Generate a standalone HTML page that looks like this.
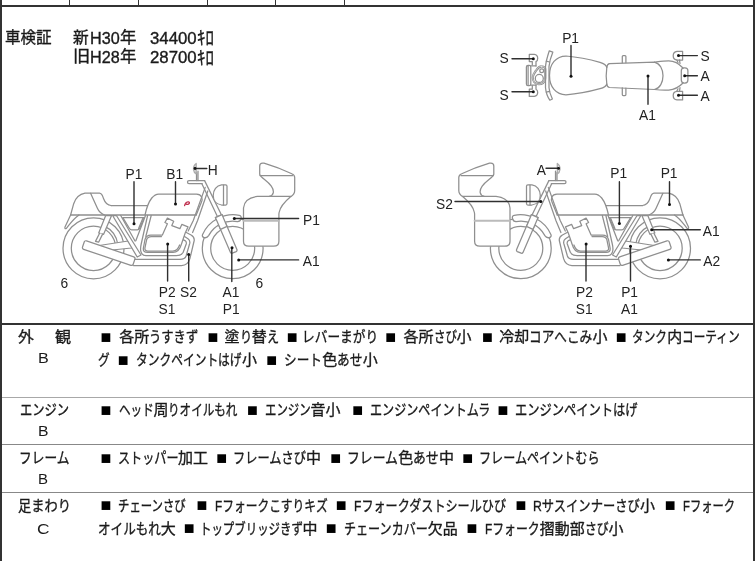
<!DOCTYPE html>
<html lang="ja">
<head>
<meta charset="utf-8">
<title>車両状態</title>
<style>
html,body{margin:0;padding:0;background:#fff;}
body{width:755px;height:561px;position:relative;overflow:hidden;
  font-family:"Liberation Sans","Noto Sans CJK JP",sans-serif;color:#222;}
.ln{position:absolute;background:#333;}
.t{position:absolute;white-space:nowrap;font-size:15px;line-height:21px;height:21px;
  transform-origin:0 50%;color:#1a1a1a;-webkit-text-stroke:0.35px #1a1a1a;}
.q{position:absolute;font-size:18px;line-height:25px;height:25px;color:#000;}
.u{font-size:16px;}
.l{-webkit-text-stroke:0;}
svg{position:absolute;left:0;top:0;}
svg text{font-family:"Liberation Sans",sans-serif;font-size:15px;fill:#222;stroke:none;}
</style>
</head>
<body>
<div id="w" style="position:absolute;left:0;top:0;width:755px;height:561px;will-change:transform;">
<!-- frame -->
<div class="ln" style="left:0;top:0;width:2px;height:561px"></div>
<div class="ln" style="left:753px;top:0;width:2px;height:561px"></div>
<div class="ln" style="left:0;top:5px;width:755px;height:2px"></div>
<div class="ln" style="left:69px;top:0;width:1px;height:6px"></div>
<div class="ln" style="left:138px;top:0;width:1px;height:6px"></div>
<div class="ln" style="left:207px;top:0;width:1px;height:6px"></div>
<div class="ln" style="left:275px;top:0;width:1px;height:6px"></div>
<div class="ln" style="left:344px;top:0;width:1px;height:6px"></div>
<div class="ln" style="left:0;top:323px;width:755px;height:2px"></div>
<div class="ln" style="left:2px;top:397px;width:751px;height:1px;background:#a8a8a8"></div>
<div class="ln" style="left:2px;top:444px;width:751px;height:1px;background:#888"></div>
<div class="ln" style="left:2px;top:492px;width:751px;height:1px;background:#888"></div>
<span class="t" style="left:119.2px;top:326.2px;transform:scaleX(1.000)">各所</span>
<span class="t" style="left:149.2px;top:326.2px;transform:scaleX(0.820)">うすきず</span>
<span class="t" style="left:224.5px;top:326.2px;transform:scaleX(1.000)">塗</span>
<span class="t" style="left:239.5px;top:326.2px;transform:scaleX(0.809)">り</span>
<span class="t" style="left:251.7px;top:326.2px;transform:scaleX(1.000)">替</span>
<span class="t" style="left:266.7px;top:326.2px;transform:scaleX(0.809)">え</span>
<span class="t" style="left:302.3px;top:326.2px;transform:scaleX(0.846)">レバーまがり</span>
<span class="t" style="left:403.5px;top:326.2px;transform:scaleX(1.000)">各所</span>
<span class="t" style="left:433.5px;top:326.2px;transform:scaleX(0.766)">さび</span>
<span class="t" style="left:456.5px;top:326.2px;transform:scaleX(1.000)">小</span>
<span class="t" style="left:499.2px;top:326.2px;transform:scaleX(1.000)">冷却</span>
<span class="t" style="left:529.2px;top:326.2px;transform:scaleX(0.842)">コアへこみ</span>
<span class="t" style="left:592.4px;top:326.2px;transform:scaleX(1.000)">小</span>
<span class="t" style="left:632.2px;top:326.2px;transform:scaleX(0.778)">タンク</span>
<span class="t" style="left:667.3px;top:326.2px;transform:scaleX(1.000)">内</span>
<span class="t" style="left:682.3px;top:326.2px;transform:scaleX(0.778)">コーティン</span>
<span class="t" style="left:97.6px;top:349.3px;transform:scaleX(0.777)">グ</span>
<span class="t" style="left:136.4px;top:349.3px;transform:scaleX(0.782)">タンクペイントはげ</span>
<span class="t" style="left:242.0px;top:349.3px;transform:scaleX(1.000)">小</span>
<span class="t" style="left:284.3px;top:349.3px;transform:scaleX(0.845)">シート</span>
<span class="t" style="left:322.3px;top:349.3px;transform:scaleX(1.000)">色</span>
<span class="t" style="left:337.3px;top:349.3px;transform:scaleX(0.845)">あせ</span>
<span class="t" style="left:362.7px;top:349.3px;transform:scaleX(1.000)">小</span>
<span class="t" style="left:118.7px;top:399.3px;transform:scaleX(0.771)">ヘッド</span>
<span class="t" style="left:153.4px;top:399.3px;transform:scaleX(1.000)">周</span>
<span class="t" style="left:168.4px;top:399.3px;transform:scaleX(0.771)">りオイルもれ</span>
<span class="t" style="left:264.8px;top:399.3px;transform:scaleX(0.761)">エンジン</span>
<span class="t" style="left:310.5px;top:399.3px;transform:scaleX(1.000)">音小</span>
<span class="t" style="left:370.0px;top:399.3px;transform:scaleX(0.806)">エンジンペイントムラ</span>
<span class="t" style="left:515.0px;top:399.3px;transform:scaleX(0.817)">エンジンペイントはげ</span>
<span class="t" style="left:117.5px;top:447.0px;transform:scaleX(0.807)">ストッパー</span>
<span class="t" style="left:178.0px;top:447.0px;transform:scaleX(1.000)">加工</span>
<span class="t" style="left:233.2px;top:447.0px;transform:scaleX(0.814)">フレームさび</span>
<span class="t" style="left:306.1px;top:447.0px;transform:scaleX(1.000)">中</span>
<span class="t" style="left:347.4px;top:447.0px;transform:scaleX(0.855)">フレーム</span>
<span class="t" style="left:398.3px;top:447.0px;transform:scaleX(1.000)">色</span>
<span class="t" style="left:413.3px;top:447.0px;transform:scaleX(0.855)">あせ</span>
<span class="t" style="left:439.0px;top:447.0px;transform:scaleX(1.000)">中</span>
<span class="t" style="left:479.2px;top:447.0px;transform:scaleX(0.806)">フレームペイントむら</span>
<span class="t" style="left:118.3px;top:494.5px;transform:scaleX(0.759)">チェーンさび</span>
<span class="t" style="left:214.7px;top:494.5px;transform:scaleX(0.784)">Fフォークこすりキズ</span>
<span class="t" style="left:353.9px;top:494.5px;transform:scaleX(0.806)">Fフォークダストシールひび</span>
<span class="t" style="left:533.2px;top:494.5px;transform:scaleX(0.817)">Rサスインナーさび</span>
<span class="t" style="left:639.9px;top:494.5px;transform:scaleX(1.000)">小</span>
<span class="t" style="left:683.0px;top:494.5px;transform:scaleX(0.753)">Fフォーク</span>
<span class="t" style="left:97.9px;top:517.5px;transform:scaleX(0.838)">オイルもれ</span>
<span class="t" style="left:160.7px;top:517.5px;transform:scaleX(1.000)">大</span>
<span class="t" style="left:199.5px;top:517.5px;transform:scaleX(0.762)">トップブリッジきず</span>
<span class="t" style="left:302.4px;top:517.5px;transform:scaleX(1.000)">中</span>
<span class="t" style="left:343.9px;top:517.5px;transform:scaleX(0.804)">チェーンカバー</span>
<span class="t" style="left:427.7px;top:517.5px;transform:scaleX(1.000)">欠品</span>
<span class="t" style="left:485.0px;top:517.5px;transform:scaleX(0.790)">Fフォーク</span>
<span class="t" style="left:539.7px;top:517.5px;transform:scaleX(1.000)">摺動部</span>
<span class="t" style="left:584.7px;top:517.5px;transform:scaleX(0.790)">さび</span>
<span class="t" style="left:608.4px;top:517.5px;transform:scaleX(1.000)">小</span>
<span class="t u" style="left:4.5px;top:26.5px;transform:scaleX(0.972)">車検証</span>
<span class="t u" style="left:73.2px;top:26.5px;transform:scaleX(0.980)">新</span>
<span class="t u" style="left:90.4px;top:27.7px;transform:scaleX(1.011)">H30</span>
<span class="t u" style="left:120.1px;top:26.5px;transform:scaleX(1.029)">年</span>
<span class="t u" style="left:149.5px;top:27.7px;transform:scaleX(1.049)">34400</span>
<span class="t u" style="font-size:19px;left:196.5px;top:27.9px;transform:scaleX(0.888)">ｷﾛ</span>
<span class="t u" style="left:73.3px;top:46.1px;transform:scaleX(1.075)">旧</span>
<span class="t u" style="left:90.4px;top:47.3px;transform:scaleX(1.011)">H28</span>
<span class="t u" style="left:120.1px;top:46.1px;transform:scaleX(1.029)">年</span>
<span class="t u" style="left:149.5px;top:47.3px;transform:scaleX(1.049)">28700</span>
<span class="t u" style="font-size:19px;left:196.5px;top:47.5px;transform:scaleX(0.888)">ｷﾛ</span>
<span class="t" style="left:17.6px;top:326.2px;transform:scaleX(1.057)">外</span>
<span class="t" style="left:54.5px;top:326.2px;transform:scaleX(1.071)">観</span>
<span class="t l" style="left:37.8px;top:347.0px;transform:scaleX(1.075)">B</span>
<span class="t" style="left:20.1px;top:399.3px;transform:scaleX(0.819)">エンジン</span>
<span class="t l" style="left:37.8px;top:420.2px;transform:scaleX(1.050)">B</span>
<span class="t" style="left:19.2px;top:447.0px;transform:scaleX(0.848)">フレーム</span>
<span class="t l" style="left:38.0px;top:468.0px;transform:scaleX(1.000)">B</span>
<span class="t" style="left:18.0px;top:494.5px;transform:scaleX(0.882)">足まわり</span>
<span class="t l" style="left:36.6px;top:517.6px;transform:scaleX(1.156)">C</span>
<span class="q" style="left:100.5px;top:325.1px">■</span>
<span class="q" style="left:207.4px;top:325.1px">■</span>
<span class="q" style="left:286.8px;top:325.1px">■</span>
<span class="q" style="left:385.2px;top:325.1px">■</span>
<span class="q" style="left:481.9px;top:325.1px">■</span>
<span class="q" style="left:615.8px;top:325.1px">■</span>
<span class="q" style="left:117.8px;top:348.2px">■</span>
<span class="q" style="left:266.3px;top:348.2px">■</span>
<span class="q" style="left:100.5px;top:398.2px">■</span>
<span class="q" style="left:247.0px;top:398.2px">■</span>
<span class="q" style="left:352.2px;top:398.2px">■</span>
<span class="q" style="left:497.6px;top:398.2px">■</span>
<span class="q" style="left:100.5px;top:445.9px">■</span>
<span class="q" style="left:216.2px;top:445.9px">■</span>
<span class="q" style="left:330.3px;top:445.9px">■</span>
<span class="q" style="left:462.2px;top:445.9px">■</span>
<span class="q" style="left:100.5px;top:493.4px">■</span>
<span class="q" style="left:196.5px;top:493.4px">■</span>
<span class="q" style="left:335.8px;top:493.4px">■</span>
<span class="q" style="left:515.4px;top:493.4px">■</span>
<span class="q" style="left:664.8px;top:493.4px">■</span>
<span class="q" style="left:183.8px;top:516.4px">■</span>
<span class="q" style="left:325.7px;top:516.4px">■</span>
<span class="q" style="left:466.6px;top:516.4px">■</span>
<svg width="755" height="561" viewBox="0 0 755 561" fill="none" stroke="#8f8f8f" stroke-width="1.25" stroke-linecap="round" stroke-linejoin="round">
<!-- ===== top view ===== -->
<g id="topview">
<!-- front signals -->
<path d="M532.3 64.9 V61.6 H529.3 V54.3 H534.3 Q537.7 54.8 537.7 58.4 Q537.7 60.8 536 61.6 V65.9"/>
<path d="M532.3 85.6 V89.2 H529.3 V96.4 H534.3 Q537.7 95.9 537.7 92.3 Q537.7 90 536 89.2 V85.1"/>
<!-- headlight -->
<rect x="526.4" y="65.3" width="4.4" height="20.3" rx="1.6"/>
<path d="M528.1 66.3 V84.6"/>
<path d="M530.8 65.9 H536 M530.8 85.1 H536"/>
<!-- gauges -->
<path d="M541.5 66.3 C544.6 66.3 545.6 68.5 545.3 71 C545.1 74 545.6 77 545 80 C544.2 83 541.5 84.3 538.6 84.2 C535 84 532.6 81 532.8 77.3 C533 74.5 534.6 72.5 536.2 70.3 C537.6 68.2 539 66.3 541.5 66.3 Z" stroke-width="2.2"/>
<path d="M541.5 66.3 C544.6 66.3 545.6 68.5 545.3 71 C545.1 74 545.6 77 545 80 C544.2 83 541.5 84.3 538.6 84.2 C535 84 532.6 81 532.8 77.3 C533 74.5 534.6 72.5 536.2 70.3 C537.6 68.2 539 66.3 541.5 66.3 Z" stroke="#fff" stroke-width=".5"/>
<circle cx="539.3" cy="78.4" r="4" fill="#fff"/>
<circle cx="541.7" cy="70.7" r="1.9" fill="#fff"/>
<!-- handlebar -->
<path d="M549.3 50.8 C547.6 56 546 61 545.5 66.4 V87.8 C546 93 547.6 97 549.8 100.2 L552.4 99 C550.6 95.5 549.3 92 549 87.8 V66.4 C549.4 62 550.8 57 552.8 52.2 Z"/>
<path d="M546.2 61.2 L549.6 62 M546.2 92.2 L549.6 91.4"/>
<!-- tank -->
<path d="M549.5 75.5 C549.5 64 556 56 566 56 C578 57 590 59.5 600 62.3 Q606 64 606.8 67.5 Q605.6 75.5 606.8 84 Q606 87.2 600 88.7 C590 91.5 578 94 566 94.8 C556 94.8 549.5 87 549.5 75.5 Z"/>
<!-- seat -->
<path d="M606.8 67.5 Q607.2 63.9 609.6 63.7 L654.5 62.1 C660 63.5 663 69.3 663 75.8 C663 82.3 660 88.1 654.5 89.5 L609.6 87.5 Q607.2 87.3 606.8 84"/>
<!-- pegs -->
<path d="M622.3 62.7 V56.5 Q622.3 55.6 623.2 55.6 H625 Q625.9 55.6 625.9 56.5 V62.6"/>
<path d="M622.3 87.8 V94.5 Q622.3 95.5 623.2 95.5 H625 Q625.9 95.5 625.9 94.5 V88"/>
<!-- tail cowl -->
<path d="M654.5 62.1 C660 61.4 664 60.8 668.7 60.8 C674 60.8 679 63.5 683 68 M654.5 89.5 C660 90.2 664 90.4 668.7 90.1 C674 89.6 679 87.2 683 83"/>
<rect x="681.3" y="67.8" width="6.6" height="15.2" rx="3"/>
<!-- rear signals -->
<path d="M682.6 51.3 H677 Q673.2 51.8 673.2 55.8 Q673.2 59.8 677 60 H682.6 Z"/>
<path d="M682.6 91.3 H677 Q673.2 91.5 673.2 95.4 Q673.2 99.4 677 99.9 H682.6 Z"/>
<path d="M676.8 60 L678 62.5 M679.5 60 L680 63.5 M676.8 91.3 L678 88.7 M679.5 91.3 L680 87.6"/>
</g>

<!-- ===== left side view ===== -->
<g id="leftbike">
<!-- wheels -->
<circle cx="93.5" cy="248.3" r="30.5"/>
<circle cx="93.5" cy="248.3" r="22.2"/>
<path d="M104 225.9 A24.7 24.7 0 0 1 118 245"/>
<circle cx="232.7" cy="248.3" r="30.4"/>
<circle cx="232.7" cy="248.3" r="22"/>
<!-- swingarm -->
<path d="M96 246 L128.2 241 L133 244.5 L131.4 248 L98 251.5 Z" fill="#fff"/>
<!-- frame tube seat->pivot -->
<path d="M112.6 215.5 L137.2 257 L141 255 L116.4 215.5 Z" fill="#fff"/>
<!-- side cover V -->
<path d="M120.7 215.5 L134.6 240.3 Q135.3 241.4 136 240.3 L145.5 215.5" fill="#fff"/>
<path d="M122.8 217.6 H144.2 L139.6 228.4 Q138.9 229.8 137.4 229.8 H131.6 Q130.3 229.8 129.5 228.5 Z"/>
<path d="M143.2 217.6 L138.6 228.4" />
<!-- rear shock -->
<path d="M105.7 215.5 L98.7 233 L103.6 234.3 L111.6 215.5 Z" fill="#fff"/>
<path d="M99.6 233.3 L95.5 241.4 L98.6 242.2 L102.6 234.1" fill="#fff"/>
<!-- muffler -->
<rect x="0" y="0" width="53.5" height="8.9" rx="1.8" transform="translate(84.8 240.3) rotate(18.7)" fill="#fff"/>
<!-- exhaust / cradle lines -->
<path d="M184.9 231.8 L191.1 235 Q194.6 237 194.2 240.5 L189.9 258.7 Q188 265.5 181.5 265.5 H133.5"/>
<path d="M183 235.4 L188 238.8 Q190.4 240.6 189.7 243.5 L186.1 256 Q185 259.3 179.9 259.3 H135"/>
<path d="M181.1 238.7 L185 240.6 Q186.8 241.8 186.2 244 L183.2 252.2 Q181.6 255.6 176.2 255.6 H146 Q141.2 255.6 140.6 250 Q140.4 247.5 141.2 244 L147.6 215.5"/>
<path d="M151.2 215.5 L145.8 236.5"/>
<!-- engine -->
<path d="M167.4 218.1 L173.7 221.2 L171.8 225.6 L179.9 228.7 L181.8 224.4 L188 226.9 L185.2 233 L181.3 244.5 Q179 252.4 173 252.4 H147.5 Q143 252.4 143.3 248.5 L145 239.5 Q146.2 235 150.8 235 H162.4 L167.4 223.7 L164.9 222.5 Z" fill="#fff"/>
<path d="M161.5 236.5 H151.3 Q147.6 236.5 146.6 239.8 L144.9 248.2 Q144.7 251 147.9 251 H172.8 Q177.6 251 179.6 245"/>
<!-- front down tube -->
<path d="M205.2 187.4 L193.3 220.5 L188.2 231 M207.8 191 L197.6 220.5 L192.6 232.5"/>
<!-- tank seat cowl -->
<path d="M145 215 C146.5 208 149 201.5 151.8 198 C153.8 195.5 156 194 158.7 194 H196.5 Q200.3 194 201.7 197 Q202.7 199.5 201.3 202.5 L196.4 214.6"/>
<path d="M70.6 215 H196.4" stroke-width="1.5"/>
<path d="M111 205.5 H147.2"/>
<path d="M70.6 215 L73.7 203.7 C75.5 198 79 194.2 85 193.1 H99.5 C102 193.3 102.6 196 103.5 198.5 C105 202.5 107 205.3 111 205.5"/>
<path d="M90.6 193.3 L97.4 208.3 Q99.4 213 104.5 215"/>
<path d="M70.6 215 L65 227 Q64.4 229.3 66.4 228.4 C70 224 73.5 218.5 79 215"/>
<!-- fork -->
<path d="M204.6 180.6 L221.5 215 M202 184 L217.4 216.6"/>
<path d="M215.4 217.6 L222 214.6 L237 249.8 Q237.4 251 236.2 251.6 L232.3 253.2 Q231.1 253.5 230.5 252.4 Z" fill="#fff"/>
<!-- front fender -->
<path d="M202.6 234.4 A33.7 33.7 0 0 1 239.3 215.3 Q241.8 216 241 218.5 Q240.3 221.5 237.5 221.6 A27.2 27.2 0 0 0 208.6 235.6 Q207 238.3 204.2 237.6 Q201.6 236.8 202.6 234.4 Z" fill="#fff"/>
<path d="M215.4 217.6 L222 214.6 L227 226.4 L220.6 229.4 Z" fill="#fff"/>
<!-- handlebar, mirror, headlight -->
<path d="M204.6 180.6 H189 Q187.5 180.6 187.5 182.1 Q187.5 183.7 189 183.7 H202.2"/>
<path d="M196.5 180.6 V172.5 M198 180.6 V171"/>
<path d="M196.2 163.4 Q193.2 165.5 193.5 169.5 Q193.8 172.8 196.2 173.8 Z" fill="#ddd" stroke="#aaa"/>
<path d="M221.5 184.8 H225.6 Q227 184.8 227 186.3 V203.5 Q227 205 225.6 205 H221.5 C216.5 204.3 213.2 200.5 213.2 195.5 C213.2 190 216.5 185.5 221.5 184.8 Z" fill="#fff"/>
<path d="M223.5 185 V205"/>
<!-- box -->
<path d="M259.7 166 Q259.7 163.1 262.6 163.1 H264 Q279 167.6 291.8 173.7 Q294.7 175 294.7 177.5 V190.5 Q294.7 194.3 290.8 196.6 C285 201.5 280.2 206.5 279.1 212.5 L278.9 214 V241.2 Q278.9 246.2 273.7 246.2 H248.7 Q243.5 246.2 243.5 241.2 V208 Q244.3 198 257.5 196.4 H269.3 C274 195 274.6 191 271.3 186.2 C267 180.2 261 178.2 259.7 174.3 Z" fill="#fff"/>
<path d="M260 175.6 H292.6 M269.3 196.4 H290.8"/>
<path d="M243.5 220.7 H278.9" stroke="#bbb" stroke-width="2"/>
</g>
<!-- ===== right side view (mirrored) ===== -->
<g transform="translate(753.5 0) scale(-1 1)">
<!-- wheels -->
<circle cx="93.5" cy="248.3" r="30.5"/>
<circle cx="93.5" cy="248.3" r="22.2"/>
<path d="M104 225.9 A24.7 24.7 0 0 1 118 245"/>
<circle cx="232.7" cy="248.3" r="30.4"/>
<circle cx="232.7" cy="248.3" r="22"/>
<!-- swingarm -->
<path d="M96 246 L128.2 241 L133 244.5 L131.4 248 L98 251.5 Z" fill="#fff"/>
<!-- frame tube seat->pivot -->
<path d="M112.6 215.5 L137.2 257 L141 255 L116.4 215.5 Z" fill="#fff"/>
<!-- side cover V -->
<path d="M120.7 215.5 L134.6 240.3 Q135.3 241.4 136 240.3 L145.5 215.5" fill="#fff"/>
<path d="M122.8 217.6 H144.2 L139.6 228.4 Q138.9 229.8 137.4 229.8 H131.6 Q130.3 229.8 129.5 228.5 Z"/>
<path d="M143.2 217.6 L138.6 228.4" />
<!-- rear shock -->
<path d="M105.7 215.5 L98.7 233 L103.6 234.3 L111.6 215.5 Z" fill="#fff"/>
<path d="M99.6 233.3 L95.5 241.4 L98.6 242.2 L102.6 234.1" fill="#fff"/>
<!-- muffler -->
<rect x="0" y="0" width="53.5" height="8.9" rx="1.8" transform="translate(84.8 240.3) rotate(18.7)" fill="#fff"/>
<!-- exhaust / cradle lines -->
<path d="M184.9 231.8 L191.1 235 Q194.6 237 194.2 240.5 L189.9 258.7 Q188 265.5 181.5 265.5 H133.5"/>
<path d="M183 235.4 L188 238.8 Q190.4 240.6 189.7 243.5 L186.1 256 Q185 259.3 179.9 259.3 H135"/>
<path d="M181.1 238.7 L185 240.6 Q186.8 241.8 186.2 244 L183.2 252.2 Q181.6 255.6 176.2 255.6 H146 Q141.2 255.6 140.6 250 Q140.4 247.5 141.2 244 L147.6 215.5"/>
<path d="M151.2 215.5 L145.8 236.5"/>
<!-- engine -->
<path d="M167.4 218.1 L173.7 221.2 L171.8 225.6 L179.9 228.7 L181.8 224.4 L188 226.9 L185.2 233 L181.3 244.5 Q179 252.4 173 252.4 H147.5 Q143 252.4 143.3 248.5 L145 239.5 Q146.2 235 150.8 235 H162.4 L167.4 223.7 L164.9 222.5 Z" fill="#fff"/>
<path d="M161.5 236.5 H151.3 Q147.6 236.5 146.6 239.8 L144.9 248.2 Q144.7 251 147.9 251 H172.8 Q177.6 251 179.6 245"/>
<!-- front down tube -->
<path d="M205.2 187.4 L193.3 220.5 L188.2 231 M207.8 191 L197.6 220.5 L192.6 232.5"/>
<!-- tank seat cowl -->
<path d="M145 215 C146.5 208 149 201.5 151.8 198 C153.8 195.5 156 194 158.7 194 H196.5 Q200.3 194 201.7 197 Q202.7 199.5 201.3 202.5 L196.4 214.6"/>
<path d="M70.6 215 H196.4" stroke-width="1.5"/>
<path d="M111 205.5 H147.2"/>
<path d="M70.6 215 L73.7 203.7 C75.5 198 79 194.2 85 193.1 H99.5 C102 193.3 102.6 196 103.5 198.5 C105 202.5 107 205.3 111 205.5"/>
<path d="M90.6 193.3 L97.4 208.3 Q99.4 213 104.5 215"/>
<path d="M70.6 215 L65 227 Q64.4 229.3 66.4 228.4 C70 224 73.5 218.5 79 215"/>
<!-- fork -->
<path d="M204.6 180.6 L221.5 215 M202 184 L217.4 216.6"/>
<path d="M215.4 217.6 L222 214.6 L237 249.8 Q237.4 251 236.2 251.6 L232.3 253.2 Q231.1 253.5 230.5 252.4 Z" fill="#fff"/>
<!-- front fender -->
<path d="M202.6 234.4 A33.7 33.7 0 0 1 239.3 215.3 Q241.8 216 241 218.5 Q240.3 221.5 237.5 221.6 A27.2 27.2 0 0 0 208.6 235.6 Q207 238.3 204.2 237.6 Q201.6 236.8 202.6 234.4 Z" fill="#fff"/>
<path d="M215.4 217.6 L222 214.6 L227 226.4 L220.6 229.4 Z" fill="#fff"/>
<!-- handlebar, mirror, headlight -->
<path d="M204.6 180.6 H189 Q187.5 180.6 187.5 182.1 Q187.5 183.7 189 183.7 H202.2"/>
<path d="M196.5 180.6 V172.5 M198 180.6 V171"/>
<path d="M196.2 163.4 Q193.2 165.5 193.5 169.5 Q193.8 172.8 196.2 173.8 Z" fill="#ddd" stroke="#aaa"/>
<path d="M221.5 184.8 H225.6 Q227 184.8 227 186.3 V203.5 Q227 205 225.6 205 H221.5 C216.5 204.3 213.2 200.5 213.2 195.5 C213.2 190 216.5 185.5 221.5 184.8 Z" fill="#fff"/>
<path d="M223.5 185 V205"/>
<!-- box -->
<path d="M259.7 166 Q259.7 163.1 262.6 163.1 H264 Q279 167.6 291.8 173.7 Q294.7 175 294.7 177.5 V190.5 Q294.7 194.3 290.8 196.6 C285 201.5 280.2 206.5 279.1 212.5 L278.9 214 V241.2 Q278.9 246.2 273.7 246.2 H248.7 Q243.5 246.2 243.5 241.2 V208 Q244.3 198 257.5 196.4 H269.3 C274 195 274.6 191 271.3 186.2 C267 180.2 261 178.2 259.7 174.3 Z" fill="#fff"/>
<path d="M260 175.6 H292.6 M269.3 196.4 H290.8"/>
<path d="M243.5 220.7 H278.9" stroke="#bbb" stroke-width="2"/>
</g>
<g stroke="#303030" stroke-width="1.4" fill="#111">
<path d="M512 58.7 H533 M512 91.8 H533 M571 45.5 V76 M648 76 V104.3 M678.5 55.6 H697.4 M684.7 75.8 H697.4 M678.5 95.2 H697.4"/>
<path d="M134 181.8 V223.7 M175.5 181.8 V204 M195 168.5 H206.8 M234.3 218.5 H298.6 M238.7 259.9 H298.6 M167.6 244 V281 M188.7 254.5 V281 M231.8 247.8 V281.5"/>
<circle cx="134" cy="223.7" r="1.5" stroke="none"/>
<circle cx="175.5" cy="204" r="1.5" stroke="none"/>
<circle cx="195" cy="168.5" r="1.4" stroke="none"/>
<circle cx="234.3" cy="218.5" r="1.5" stroke="none"/>
<circle cx="238.7" cy="259.9" r="1.5" stroke="none"/>
<circle cx="167.7" cy="244" r="1.5" stroke="none"/>
<circle cx="188.7" cy="254.5" r="1.5" stroke="none"/>
<circle cx="232" cy="247.8" r="1.5" stroke="none"/>
<path d="M546 168.3 H558.6 M455 201.5 H540.8 M619.4 181.7 V223.6 M669.5 181.7 V204.6 M651.7 229.8 H700.3 M668.4 259.9 H700.3 M586 244.1 V281 M630.5 246.3 V281"/>
<circle cx="558.6" cy="168.4" r="1.4" stroke="none"/>
<circle cx="540.8" cy="201.5" r="1.5" stroke="none"/>
<circle cx="619.4" cy="223.6" r="1.5" stroke="none"/>
<circle cx="669.5" cy="204.6" r="1.5" stroke="none"/>
<circle cx="651.7" cy="229.8" r="1.5" stroke="none"/>
<circle cx="668.4" cy="259.9" r="1.5" stroke="none"/>
<circle cx="586.1" cy="244.1" r="1.5" stroke="none"/>
<circle cx="630.5" cy="246.3" r="1.5" stroke="none"/>
<circle cx="533.3" cy="58.7" r="1.5" stroke="none"/>
<circle cx="533.3" cy="91.8" r="1.5" stroke="none"/>
<circle cx="571" cy="76.2" r="1.5" stroke="none"/>
<circle cx="648" cy="75.9" r="1.5" stroke="none"/>
<circle cx="678.5" cy="55.6" r="1.5" stroke="none"/>
<circle cx="684.7" cy="75.8" r="1.5" stroke="none"/>
<circle cx="678.5" cy="95.2" r="1.5" stroke="none"/>
</g>
<path d="M184.6 205.6 C185 203.3 186.8 201.6 188.6 201.8 C190 202.2 189.6 203.8 188 204.3 C186.6 204.7 185.6 204 185.8 203" stroke="#c0304f" stroke-width="1.3" fill="none"/>
<g text-anchor="middle">
<text transform="translate(541.4 175.4) scale(.92 1)">A</text>
<text transform="translate(444.4 208.6) scale(.92 1)">S2</text>
<text transform="translate(618.7 178.2) scale(.92 1)">P1</text>
<text transform="translate(669.1 178.2) scale(.92 1)">P1</text>
<text transform="translate(711.2 235.6) scale(.92 1)">A1</text>
<text transform="translate(711.7 266.2) scale(.92 1)">A2</text>
<text transform="translate(584.4 297.2) scale(.92 1)">P2</text>
<text transform="translate(584.2 313.6) scale(.92 1)">S1</text>
<text transform="translate(629.6 297.2) scale(.92 1)">P1</text>
<text transform="translate(629.4 313.6) scale(.92 1)">A1</text>
<text transform="translate(134 178.6) scale(.92 1)">P1</text>
<text transform="translate(174.7 178.6) scale(.92 1)">B1</text>
<text transform="translate(212.7 175.2) scale(.92 1)">H</text>
<text transform="translate(311.5 224.6) scale(.92 1)">P1</text>
<text transform="translate(311.3 266.3) scale(.92 1)">A1</text>
<text transform="translate(167.3 297.4) scale(.92 1)">P2</text>
<text transform="translate(188.5 297.4) scale(.92 1)">S2</text>
<text transform="translate(167 313.6) scale(.92 1)">S1</text>
<text transform="translate(231 297.4) scale(.92 1)">A1</text>
<text transform="translate(231.2 313.6) scale(.92 1)">P1</text>
<text transform="translate(64.3 287.8) scale(.92 1)">6</text>
<text transform="translate(259.4 287.5) scale(.92 1)">6</text>
<text transform="translate(504.2 62.5) scale(.92 1)">S</text>
<text transform="translate(504.2 99.8) scale(.92 1)">S</text>
<text transform="translate(570.6 42.8) scale(.92 1)">P1</text>
<text transform="translate(647.4 120) scale(.92 1)">A1</text>
<text transform="translate(705 60.8) scale(.92 1)">S</text>
<text transform="translate(705.2 81) scale(.92 1)">A</text>
<text transform="translate(705.2 101.2) scale(.92 1)">A</text>
</g>
</svg>

</div>
</body>
</html>
